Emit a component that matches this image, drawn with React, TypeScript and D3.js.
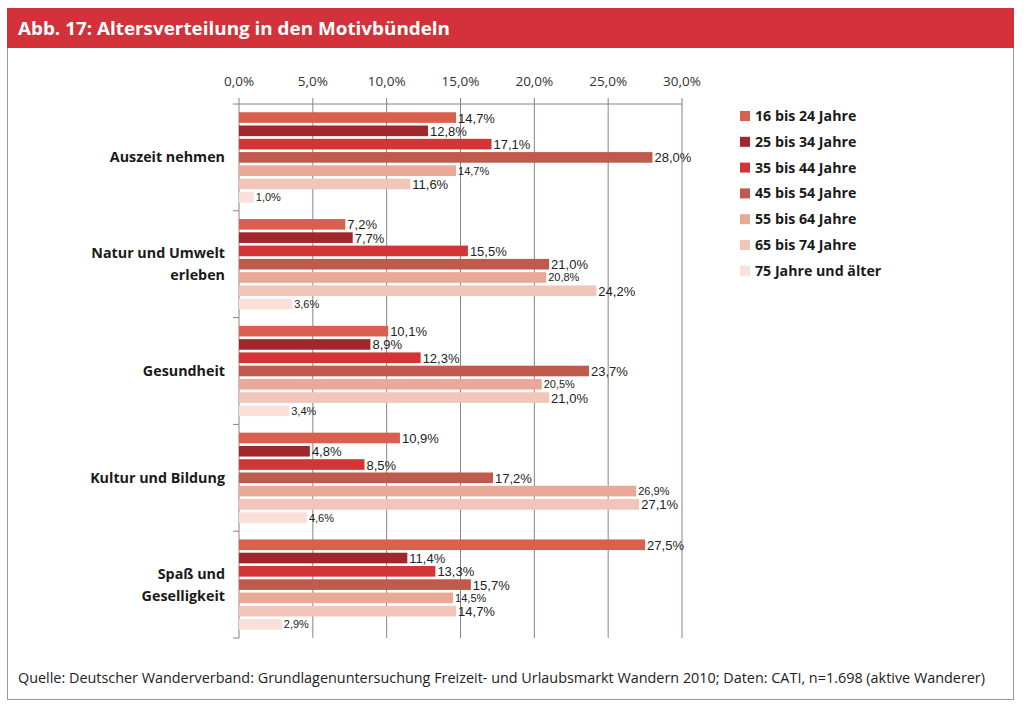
import React from "react";
import * as d3 from "d3";

const categories = [
  ["Auszeit nehmen"],
  ["Natur und Umwelt", "erleben"],
  ["Gesundheit"],
  ["Kultur und Bildung"],
  ["Spaß und", "Geselligkeit"],
];
const seriesNames = [
  "16 bis 24 Jahre",
  "25 bis 34 Jahre",
  "35 bis 44 Jahre",
  "45 bis 54 Jahre",
  "55 bis 64 Jahre",
  "65 bis 74 Jahre",
  "75 Jahre und älter",
];
const age16to24 = [14.7, 7.2, 10.1, 10.9, 27.5];
const age25to34 = [12.8, 7.7, 8.9, 4.8, 11.4];
const age35to44 = [17.1, 15.5, 12.3, 8.5, 13.3];
const age45to54 = [28.0, 21.0, 23.7, 17.2, 15.7];
const age55to64 = [14.7, 20.8, 20.5, 26.9, 14.5];
const age65to74 = [11.6, 24.2, 21.0, 27.1, 14.7];
const age75plus = [1.0, 3.6, 3.4, 4.6, 2.9];
const seriesValues = [age16to24, age25to34, age35to44, age45to54, age55to64, age65to74, age75plus];
const tickValues = [0, 5, 10, 15, 20, 25, 30];

const colors = ["#d9604f", "#a0282c", "#d33536", "#bf5a4c", "#e9a999", "#f1c6b9", "#f9e1da"];
const smallLabel = [false, false, false, false, true, false, true];

const fmt = (v: number) => v.toFixed(1).replace(".", ",") + "%";

export default function App() {
  const W = 1024, H = 709;
  const x = d3.scaleLinear().domain([0, 30]).range([239, 682]);
  const y0 = d3.scaleBand<number>().domain(d3.range(categories.length)).range([104, 638]).padding(0);
  const y1 = d3.scaleBand<number>().domain(d3.range(seriesNames.length)).range([0, y0.bandwidth()]).paddingInner(0.2).paddingOuter(0.62);
  const gridColor = "#8f8080";
  const font = "'Open Sans', 'DejaVu Sans', sans-serif";
  const barFont = "'Liberation Sans', Arial, sans-serif";
  return (
    <svg width={W} height={H} style={{ position: "absolute", left: 0, top: 0, background: "#fff" }} fontFamily={font}>
      <rect x={7.5} y={8.5} width={1006} height={691} fill="#fff" stroke="#9a9a9a" strokeWidth={1} />
      <rect x={7} y={8} width={1007} height={40} fill="#d3323a" />
      <text x={18} y={35} fill="#fff" fontSize={18} fontWeight={700} textLength={432} lengthAdjust="spacingAndGlyphs">Abb. 17: Altersverteilung in den Motivbündeln</text>

      {tickValues.map((t) => (
        <text key={"tl" + t} x={x(t)} y={86} textAnchor="middle" fontSize={13.5} fill="#333">{fmt(t)}</text>
      ))}
      {tickValues.map((t) => (
        <line key={"g" + t} x1={x(t)} x2={x(t)} y1={98} y2={638} stroke={gridColor} strokeWidth={1} />
      ))}
      <line x1={x(0)} x2={x(30)} y1={104} y2={104} stroke={gridColor} strokeWidth={1} />
      {d3.range(categories.length + 1).map((i) => {
        const yy = i < categories.length ? y0(i)! : y0.range()[1];
        return <line key={"ct" + i} x1={x(0) - 6} x2={x(0)} y1={yy} y2={yy} stroke={gridColor} strokeWidth={1} />;
      })}

      {categories.map((cat, ci) => (
        <g key={"c" + ci} transform={`translate(0,${y0(ci)})`}>
          {seriesValues.map((vals, si) => {
            const v = vals[ci];
            const by = y1(si)!;
            const bh = y1.bandwidth();
            return (
              <g key={"b" + si}>
                <rect x={x(0)} y={by} width={x(v) - x(0)} height={bh} fill={colors[si]} />
                <text x={x(v) + 2} y={by + bh / 2 + (smallLabel[si] ? 4 : 5)} fontFamily={barFont} fontSize={smallLabel[si] ? 11 : 13} fill="#222">{fmt(v)}</text>
              </g>
            );
          })}
          {cat.map((line, li) => (
            <text key={"l" + li} x={225} y={y0.bandwidth() / 2 + 5 + (li - (cat.length - 1) / 2) * 22} textAnchor="end" fontSize={14.3} fontWeight={700} fill="#1a1a1a">{line}</text>
          ))}
        </g>
      ))}

      {seriesNames.map((n, i) => (
        <g key={"lg" + i} transform={`translate(740,${116 + i * 25.8})`}>
          <rect x={0} y={-5} width={10} height={10} fill={colors[i]} />
          <text x={15} y={5} fontSize={14.2} fontWeight={700} fill="#1a1a1a">{n}</text>
        </g>
      ))}

      <text x={18} y={683} fontSize={14} fill="#222" textLength={967} lengthAdjust="spacingAndGlyphs">Quelle: Deutscher Wanderverband: Grundlagenuntersuchung Freizeit- und Urlaubsmarkt Wandern 2010; Daten: CATI, n=1.698 (aktive Wanderer)</text>
    </svg>
  );
}
